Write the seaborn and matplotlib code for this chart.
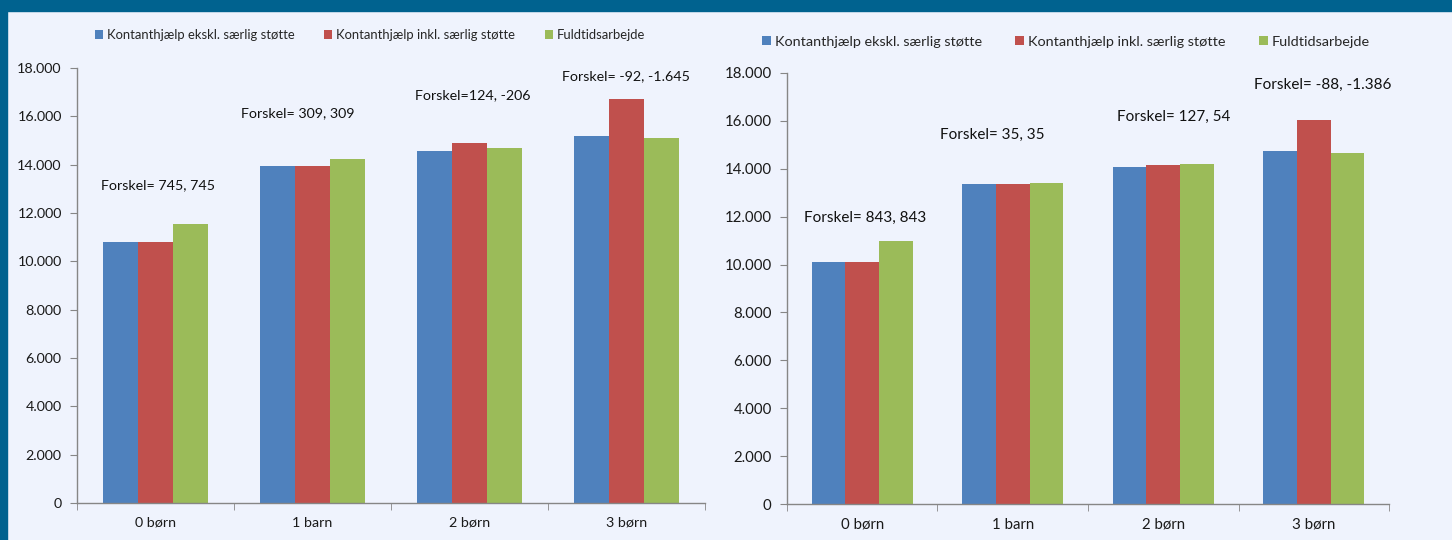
import matplotlib
matplotlib.use("Agg")
import matplotlib.pyplot as plt
import numpy as np
import pandas as pd
import seaborn as sns
from matplotlib.patches import Rectangle
from matplotlib.ticker import FuncFormatter, FixedLocator

sns.set_style("white")
plt.rcParams["font.family"] = ["Lato", "DejaVu Sans"]

# --------------------------------------------------------------------------
# Data
# --------------------------------------------------------------------------
CATEGORIES = ["0 børn", "1 barn", "2 børn", "3 børn"]
SERIES = [
    "Kontanthjælp ekskl. særlig støtte",
    "Kontanthjælp inkl. særlig støtte",
    "Fuldtidsarbejde",
]
COLOURS = ["#4F81BD", "#C0504D", "#9BBB59"]

LEFT_EKSKL = [10780, 13940, 14570, 15190]
LEFT_INKL = [10780, 13940, 14900, 16735]
LEFT_FULD = [11525, 14250, 14695, 15100]
LEFT_NOTES = ["Forskel= 745, 745", "Forskel= 309, 309",
              "Forskel=124, -206", "Forskel= -92, -1.645"]

RIGHT_EKSKL = [10120, 13380, 14070, 14740]
RIGHT_INKL = [10120, 13380, 14140, 16040]
RIGHT_FULD = [10963, 13415, 14197, 14652]
RIGHT_NOTES = ["Forskel= 843, 843", "Forskel= 35, 35",
               "Forskel= 127, 54", "Forskel= -88, -1.386"]

# annotation anchor (x in category units, y in data units)
LEFT_NOTE_POS = [(-0.35, 13150), (0.545, 16140), (1.65, 16880), (2.59, 17670)]
RIGHT_NOTE_POS = [(-0.39, 11950), (0.515, 15410), (1.69, 16170), (2.60, 17500)]

BG = "#EFF3FD"
FRAME = "#00628F"
AXIS_GREY = "#868686"


def long_frame(a, b, c):
    rows = []
    for s, vals in zip(SERIES, (a, b, c)):
        for cat, v in zip(CATEGORIES, vals):
            rows.append({"kategori": cat, "serie": s, "kr": v})
    return pd.DataFrame(rows)


def thousands(v, _pos):
    return f"{int(v):,}".replace(",", ".")


def draw_panel(ax, df, notes, note_pos, fs_tick, fs_note, fs_leg, leg_anchor):
    sns.barplot(data=df, x="kategori", y="kr", hue="serie", order=CATEGORIES,
                hue_order=SERIES, palette=COLOURS, width=0.67, ax=ax,
                saturation=1, errorbar=None, edgecolor="none")
    ax.set_facecolor(BG)
    ax.set_xlim(-0.5, 3.5)
    ax.set_ylim(0, 18000)
    ax.set_yticks(np.arange(0, 18001, 2000))
    ax.yaxis.set_major_formatter(FuncFormatter(thousands))
    ax.set_xlabel("")
    ax.set_ylabel("")
    for side in ("top", "right"):
        ax.spines[side].set_visible(False)
    for side in ("left", "bottom"):
        ax.spines[side].set_color(AXIS_GREY)
        ax.spines[side].set_linewidth(1.0)
    ax.tick_params(axis="y", length=5, color=AXIS_GREY, labelsize=fs_tick,
                   labelcolor="#1a1a1a", pad=6, left=True)
    ax.tick_params(axis="x", which="major", length=0, labelsize=fs_tick,
                   labelcolor="#1a1a1a", pad=10)
    ax.xaxis.set_minor_locator(FixedLocator(np.arange(-0.5, 3.51, 1.0)))
    ax.tick_params(axis="x", which="minor", length=5, color=AXIS_GREY,
                   bottom=True)
    for txt, (x, y) in zip(notes, note_pos):
        ax.text(x, y, txt, ha="left", va="center", fontsize=fs_note,
                color="#111111")
    handles, labels = ax.get_legend_handles_labels()
    ax.legend(handles, labels, loc="center", bbox_to_anchor=leg_anchor,
              bbox_transform=ax.figure.transFigure, ncol=3, frameon=False,
              fontsize=fs_leg, handlelength=0.6, handleheight=0.6,
              handletextpad=0.3, columnspacing=2.3)


fig = plt.figure(figsize=(14.52, 5.40), dpi=100, facecolor=BG)

ax_l = fig.add_axes([77 / 1452, 37 / 540, 628 / 1452, 435 / 540])
ax_r = fig.add_axes([787 / 1452, 36 / 540, 602 / 1452, 431 / 540])

draw_panel(ax_l, long_frame(LEFT_EKSKL, LEFT_INKL, LEFT_FULD),
           LEFT_NOTES, LEFT_NOTE_POS, 10.3, 10.3, 9.4,
           (370 / 1452, 1 - 35 / 540))
draw_panel(ax_r, long_frame(RIGHT_EKSKL, RIGHT_INKL, RIGHT_FULD),
           RIGHT_NOTES, RIGHT_NOTE_POS, 10.8, 11, 10.4,
           (1066 / 1452, 1 - 42 / 540))

# dark frame band along the top and left edge
fig.patches.append(Rectangle((0, 1 - 11 / 540), 1, 11 / 540,
                             transform=fig.transFigure, color=FRAME, zorder=10))
fig.patches.append(Rectangle((0, 0), 7 / 1452, 1,
                             transform=fig.transFigure, color=FRAME, zorder=10))

fig.savefig("out.png", dpi=100, facecolor=BG)
